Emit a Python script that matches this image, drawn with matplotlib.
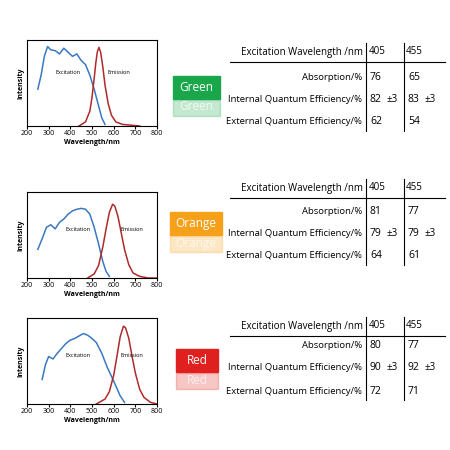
import matplotlib
matplotlib.use("Agg")
import matplotlib.pyplot as plt
from matplotlib.patches import Rectangle
import matplotlib.colors as mc

W = H = 450
names = ["Green", "Orange", "Red"]
box_colors = ["#1aa64a", "#f7a11a", "#e0201e"]
absorption = [(76, 65), (81, 77), (80, 77)]
iqe = [(82, 83), (79, 79), (90, 92)]
eqe = [(62, 54), (64, 61), (72, 71)]
wavelengths = ["405", "455"]

ex_x = [
    [250, 265, 280, 295, 310, 330, 350, 370, 390, 410, 430, 450, 470, 490, 510, 530, 545, 560],
    [250, 270, 290, 310, 330, 350, 370, 390, 410, 430, 450, 470, 490, 510, 530, 550, 565, 580],
    [270, 285, 300, 320, 340, 360, 380, 400, 420, 440, 460, 480, 500, 520, 545, 570, 600, 630, 650],
]
ex_y = [
    [0.45, 0.62, 0.85, 0.97, 0.93, 0.92, 0.88, 0.95, 0.90, 0.85, 0.88, 0.80, 0.75, 0.62, 0.45, 0.25, 0.10, 0.02],
    [0.35, 0.48, 0.62, 0.65, 0.60, 0.68, 0.72, 0.78, 0.82, 0.84, 0.85, 0.84, 0.78, 0.62, 0.42, 0.20, 0.08, 0.02],
    [0.30, 0.48, 0.58, 0.55, 0.62, 0.68, 0.74, 0.78, 0.80, 0.83, 0.86, 0.84, 0.80, 0.75, 0.62, 0.45, 0.28, 0.10, 0.02],
]
em_x = [
    [440, 470, 490, 500, 510, 518, 525, 532, 540, 550, 560, 575, 590, 610, 640, 680, 720],
    [480, 510, 530, 550, 565, 580, 595, 605, 620, 635, 650, 670, 690, 720, 760, 800],
    [520, 560, 580, 600, 615, 630, 645, 655, 670, 685, 700, 720, 740, 770, 800],
]
em_y = [
    [0.0, 0.05, 0.18, 0.35, 0.58, 0.78, 0.91, 0.96, 0.90, 0.72, 0.50, 0.27, 0.13, 0.05, 0.02, 0.01, 0.0],
    [0.0, 0.05, 0.15, 0.38, 0.60, 0.80, 0.90, 0.88, 0.75, 0.55, 0.35, 0.16, 0.06, 0.02, 0.0, 0.0],
    [0.0, 0.06, 0.15, 0.35, 0.58, 0.82, 0.95, 0.93, 0.80, 0.58, 0.38, 0.18, 0.08, 0.02, 0.0],
]

fig = plt.figure(figsize=(4.5, 4.5), dpi=100)
plt.rcParams['font.family'] = ['Open Sans', 'DejaVu Sans']

def fx(px): return px / W
def fy(py): return 1 - py / H

plot_tops = [40, 192, 318]
box_pos = [(173, 76, 47), (170, 212, 52), (176, 349, 42)]
header_y = [52, 188, 326]
row_ys = [[77, 100, 122], [212, 234, 256], [346, 368, 391]]
labels = ["Absorption/%", "Internal Quantum Efficiency/%", "External Quantum Efficiency/%"]

for i in range(3):
    top = plot_tops[i]
    ax = fig.add_axes([fx(27), fy(top + 86), fx(130), 86 / H])
    ax.plot(ex_x[i], ex_y[i], color="#3a78c3", lw=1.1)
    ax.plot(em_x[i], em_y[i], color="#b02a2a", lw=1.1)
    ax.set_xlim(200, 800); ax.set_ylim(0, 1.05)
    ax.set_yticks([]); ax.set_xticks(range(200, 801, 100))
    ax.tick_params(labelsize=5, length=2, pad=1)
    ax.set_xlabel("Wavelength/nm", fontsize=5, fontweight="bold", labelpad=1)
    ax.set_ylabel("Intensity", fontsize=5, fontweight="bold", labelpad=2)
    ax.text(0.22 if i == 0 else 0.3, 0.6 if i == 0 else 0.55, "Excitation", fontsize=4, transform=ax.transAxes)
    ax.text(0.62 if i == 0 else 0.72, 0.6 if i == 0 else 0.55, "Emission", fontsize=4, transform=ax.transAxes)

    bx, by, bw = box_pos[i]
    c = box_colors[i]
    fig.patches.append(Rectangle((fx(bx), fy(by + 23)), fx(bw), 23 / H, transform=fig.transFigure,
                                 color=c, zorder=2))
    fig.text(fx(bx + bw / 2), fy(by + 11.5), names[i], color="white", fontsize=8.5,
             ha="center", va="center", zorder=3)
    light = mc.to_rgba(c, 0.25)
    fig.patches.append(Rectangle((fx(bx), fy(by + 40)), fx(bw), 16 / H, transform=fig.transFigure,
                                 color=light, zorder=2))
    fig.text(fx(bx + bw / 2), fy(by + 31), names[i], color="white", fontsize=8.5,
             ha="center", va="center", zorder=3, alpha=0.7)

    hy = header_y[i]
    fig.text(fx(302), fy(hy), "Excitation Wavelength /nm", fontsize=7, ha="center", va="center")
    fig.text(fx(377), fy(hy), wavelengths[0], fontsize=7, ha="center", va="center")
    fig.text(fx(414), fy(hy), wavelengths[1], fontsize=7, ha="center", va="center")
    fig.add_artist(plt.Line2D([fx(230), fx(445)], [fy(hy + 10)] * 2, color="black", lw=0.8))
    for vx in (366, 404):
        fig.add_artist(plt.Line2D([fx(vx)] * 2, [fy(hy - 9), fy(row_ys[i][2] + 9)], color="black", lw=0.8))
    vals = [absorption[i], iqe[i], eqe[i]]
    for r in range(3):
        ry = row_ys[i][r]
        fig.text(fx(362), fy(ry), labels[r], fontsize=6.8, ha="right", va="center")
        for k, x0 in enumerate((370, 408)):
            fig.text(fx(x0), fy(ry), str(vals[r][k]), fontsize=7.5, ha="left", va="center")
            if r == 1:
                fig.text(fx(x0 + 16), fy(ry), "±3", fontsize=7, ha="left", va="center")

fig.savefig("out.png", dpi=100)
